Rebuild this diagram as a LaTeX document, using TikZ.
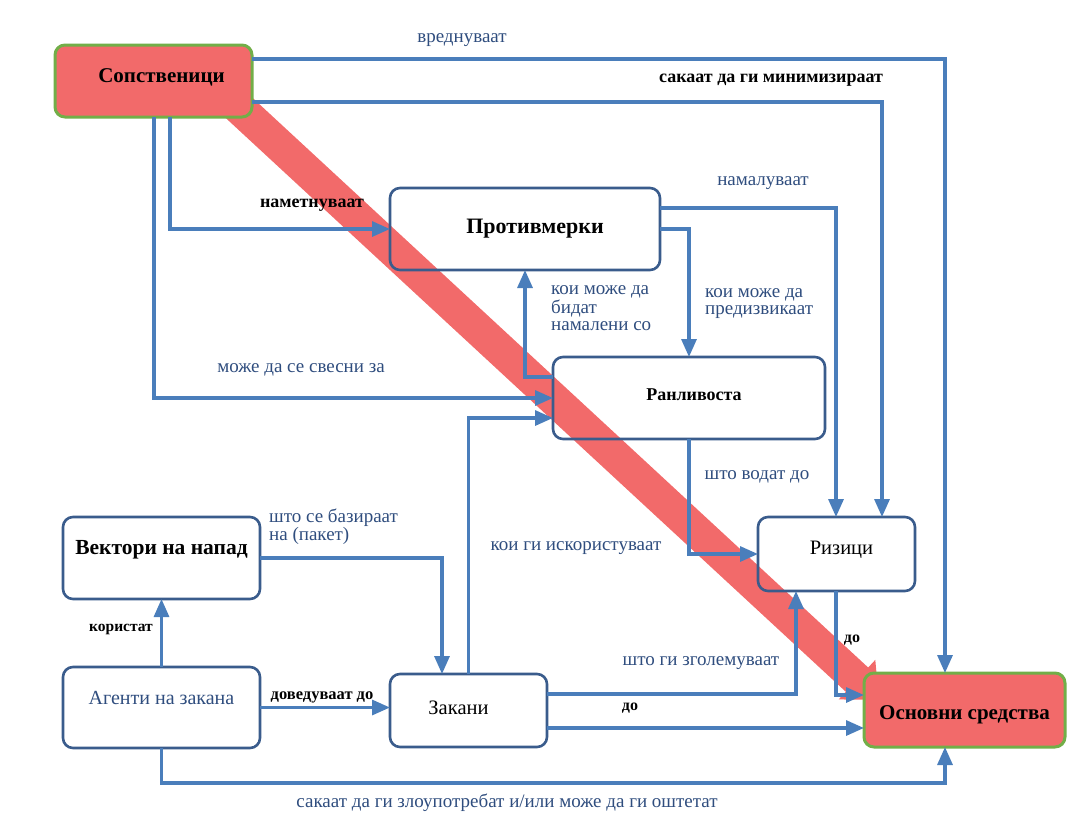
\documentclass[tikz,border=0pt]{standalone}
\usepackage{fontspec}
\setmainfont{Liberation Serif}
\usetikzlibrary{positioning,calc,backgrounds,arrows.meta}
\definecolor{linkblue}{HTML}{4A7EBB}
\definecolor{edgeblue}{HTML}{3A5C8C}
\definecolor{textblue}{HTML}{2F4D7E}
\definecolor{assetred}{HTML}{F26A6A}
\definecolor{assetgreen}{HTML}{72AE48}

\begin{document}
\begin{tikzpicture}[x=1pt,y=-1pt]
\tikzstyle{box}=[draw=edgeblue,line width=2.6pt,rounded corners=10pt,inner sep=0pt,outer sep=0pt]
\tikzstyle{keybox}=[box,draw=assetgreen,fill=assetred,line width=3pt]
\tikzstyle{conn}=[draw=linkblue,line width=3.2pt,-{Triangle[length=18pt,width=15pt]}]
\tikzstyle{lbl}=[text=textblue,inner sep=0pt,font=\fontsize{19}{17}\selectfont,align=left]
\tikzstyle{blbl}=[inner sep=0pt,font=\fontsize{18}{20}\selectfont\bfseries]
\useasboundingbox (0,0) rectangle (1088,823);

% boxes
\node[keybox,minimum width=197pt,minimum height=72pt,
  label={[name=ownText,xshift=8pt,yshift=4pt,font=\fontsize{21}{22}\selectfont\bfseries]center:Сопственици}] (own) at (153.5,81) {};
\node[box,minimum width=270pt,minimum height=82pt,
  label={[name=cmText,xshift=10pt,font=\fontsize{22}{22}\selectfont\bfseries]center:Противмерки}] (cm) at (525,229) {};
\node[box,minimum width=272pt,minimum height=82pt,
  label={[name=vulText,xshift=5pt,yshift=3pt,font=\fontsize{18}{22}\selectfont\bfseries]center:Ранливоста}] (vul) at (689,398) {};
\node[box,minimum width=157pt,minimum height=74pt,
  label={[name=riskText,xshift=5pt,yshift=4pt,font=\fontsize{20.5}{22}\selectfont]center:Ризици}] (risk) at (836.5,554) {};
\node[box,minimum width=197pt,minimum height=82pt,
  label={[name=vecText,yshift=8pt,font=\fontsize{21.5}{22}\selectfont\bfseries]center:Вектори на напад}] (vec) at (161.5,558) {};
\node[box,minimum width=197pt,minimum height=81pt,
  label={[name=agentText,yshift=10pt,text=textblue,font=\fontsize{20}{22}\selectfont]center:Агенти на закана}] (agent) at (161.5,707.5) {};
\node[box,minimum width=157pt,minimum height=73pt,
  label={[name=thrText,xshift=-10pt,yshift=3pt,font=\fontsize{20.5}{22}\selectfont]center:Закани}] (thr) at (468.5,710.5) {};
\node[keybox,minimum width=201pt,minimum height=74pt,
  label={[name=assetsText,yshift=-5pt,font=\fontsize{21}{22}\selectfont\bfseries]center:Основни средства}] (assets) at (964.5,710) {};

% red band
\begin{scope}[on background layer]
\draw[assetred,line width=33pt,-{Triangle[length=30pt,width=52pt]}] ($(own.south east)+(-29,-24)$) -- ($(assets.north west)+(15,27)$);
\end{scope}

% connectors
\draw[conn] ($(own.north east)+(0,14)$) -| ($(assets.north west)+(81,0)$);
\draw[conn] ($(own.north east)+(0,57)$) -| ($(risk.north west)+(124,0)$);
\draw[conn] ($(own.south west)+(115,0)$) |- (cm.west);
\draw[conn] ($(own.south west)+(99,0)$) |- (vul.west);
\draw[conn] ($(cm.north east)+(0,20)$) -| ($(risk.north west)+(78,0)$);
\draw[conn] (cm.east) -| (vul.north);
\draw[conn] ($(vul.north west)+(0,20)$) -| ($(cm.south west)+(135,0)$);
\draw[conn] (vul.south) |- (risk.west);
\draw[conn] (thr.north) |- ($(vul.south west)+(0,-21)$);
\draw[conn] (vec.east) -| ($(thr.north west)+(52,0)$);
\draw[conn] (agent.north) -- (vec.south);
\draw[conn] (agent.east) -- (agent.east -| thr.west);
\draw[conn] ($(thr.north east)+(0,20)$) -| ($(risk.south west)+(38,0)$);
\coordinate (thrOut) at ($(thr.south east)+(0,-19)$);
\draw[conn] (thrOut) -- (thrOut -| assets.west);
\draw[conn] ($(risk.south west)+(78,0)$) |- ($(assets.north west)+(0,22)$);
\draw[conn] (agent.south) -- ++(0,35) -| ($(assets.south west)+(81,0)$);

% labels
\node[lbl] (lValue) at (462,40) {вреднуваат};
\node[blbl] (lMin) at (771,80) {сакаат да ги минимизираат};
\node[blbl] (lImpose) at (312,205) {наметнуваат};
\node[lbl] (lAware) at (301,370) {може да се свесни за};
\node[lbl] (lReduce) at (763,183) {намалуваат};
\node[lbl,anchor=west] (lCause) at (705,304) {кои може да\\предизвикаат};
\node[lbl,anchor=west] (lMitig) at (551,308) {кои може да\\бидат\\намалени со};
\node[lbl] (lLead) at (757,477) {што водат до};
\node[lbl] (lExploit) at (576,548) {кои ги искористуваат};
\node[lbl,anchor=west] (lBased) at (269,527) {што се базираат\\на (пакет)};
\node[blbl,font=\fontsize{15.5}{18}\selectfont\bfseries] (lUse) at (121,629) {користат};
\node[blbl,font=\fontsize{16.5}{18}\selectfont\bfseries] (lGive) at (322,697) {доведуваат до};
\node[lbl] (lRaise) at (701,663) {што ги зголемуваат};
\node[blbl,font=\fontsize{16}{18}\selectfont\bfseries] (lTo) at (852,640) {до};
\node[blbl,font=\fontsize{16}{18}\selectfont\bfseries] (lTo2) at (630,708) {до};
\node[lbl] (lAbuse) at (507,803) {сакаат да ги злоупотребат и/или може да ги оштетат};
\end{tikzpicture}
\end{document}
